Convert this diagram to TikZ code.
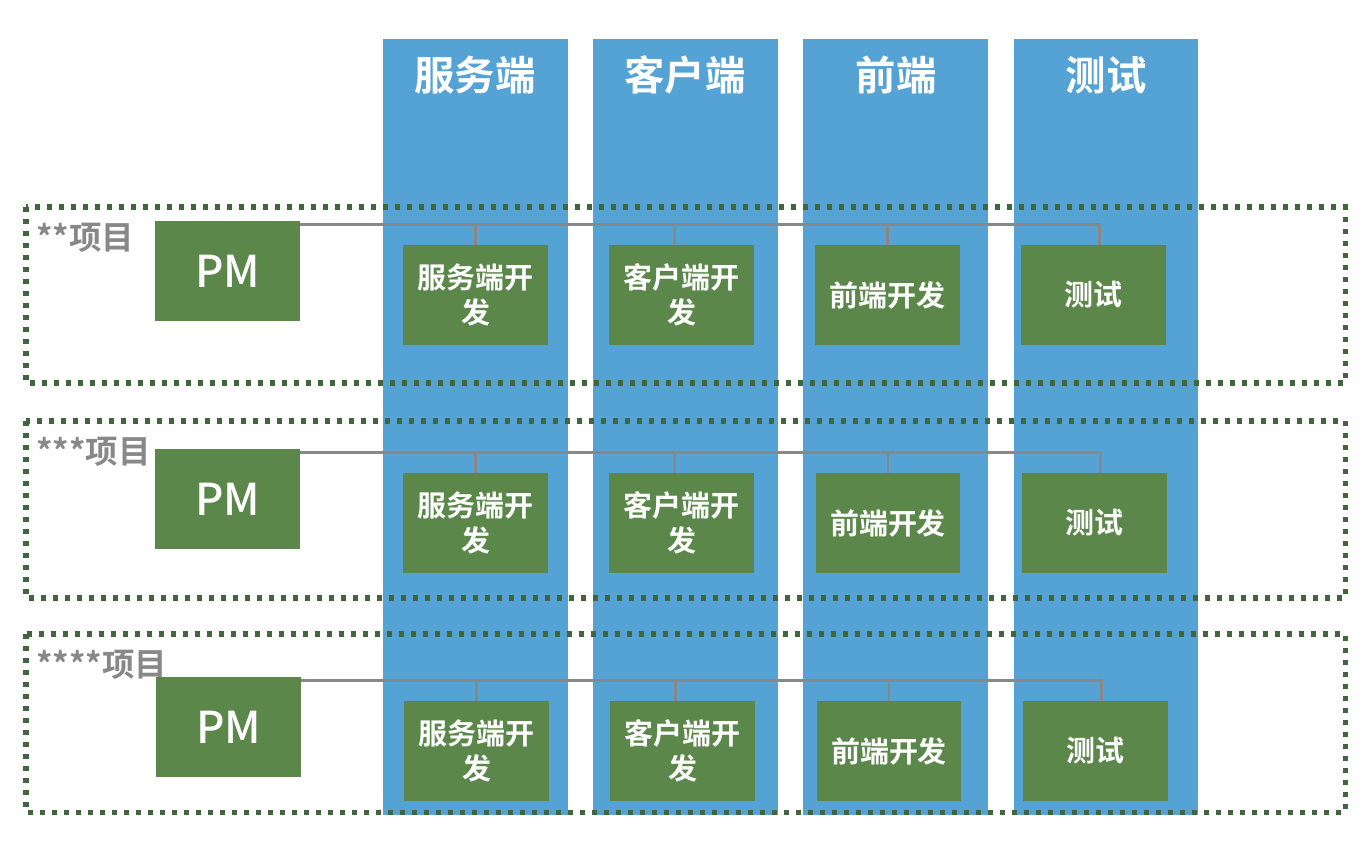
\documentclass[tikz,border=0pt]{standalone}
\usepackage{fontspec}
\setmainfont{Noto Sans CJK SC}[BoldFont={Noto Sans CJK SC Bold}]
\newfontfamily\pmfont{Noto Sans CJK SC Medium}
\usepackage{tikz}
\usetikzlibrary{calc}

\definecolor{colblue}{HTML}{55A3D5}
\definecolor{taskgreen}{HTML}{5B874B}
\definecolor{framegreen}{HTML}{41663D}
\definecolor{linkgray}{HTML}{888888}

\begin{document}
\begin{tikzpicture}[
            x=0.02cm, y=-0.02cm,
            column/.style={fill=colblue},
            column head/.style={text=white, font=\fontsize{23pt}{28pt}\selectfont\bfseries, inner sep=0pt},
            project frame/.style={draw=framegreen, line width=2.85pt, dash pattern=on 2.85pt off 3.98pt},
            project label/.style={anchor=west, text=linkgray, font=\fontsize{18.5pt}{22pt}\selectfont\bfseries, inner sep=0pt},
            pm box/.style={fill=taskgreen, text=white, minimum width=2.9cm, minimum height=2cm, inner sep=0pt,
                font=\pmfont\fontsize{25pt}{30pt}\selectfont},
            task box/.style={fill=taskgreen, text=white, minimum width=2.9cm, minimum height=2cm, inner sep=0pt,
                align=center, font=\fontsize{16.5pt}{20pt}\selectfont\bfseries},
            link/.style={draw=linkgray, line width=1.6pt},
        ]
        \useasboundingbox (0,0) rectangle (1366,844);

        % columns
        \fill[column] (383,39) rectangle (568,815);
        \fill[column] (593,39) rectangle (778,815);
        \fill[column] (803,39) rectangle (988,815);
        \fill[column] (1014,39) rectangle (1198,815);

        \node[column head] (headSrv) at (475,75) {服务端};
        \node[column head] (headCli) at (685,75) {客户端};
        \node[column head] (headFe) at (896,75) {前端};
        \node[column head] (headQa) at (1106,75) {测试};

        % project frames
        \draw[project frame] (26,207) rectangle (1345,383);
        \draw[project frame] (26,421) rectangle (1345,598);
        \draw[project frame] (26,634) rectangle (1345,812);

        \node[project label] (projA) at (36,238) {**项目};
        \node[project label] (projB) at (36,452) {***项目};
        \node[project label] (projC) at (36,665) {****项目};

        % first project
        \node[pm box] (pmA) at (227.5,271) {PM};
        \node[task box] (srvA) at (475.5,295) {服务端开\\发};
        \node[task box] (cliA) at (681.5,295) {客户端开\\发};
        \node[task box] (feA) at (887.5,295) {前端开发};
        \node[task box] (qaA) at (1093.5,295) {测试};

        \coordinate (busA) at ([yshift=-0.08cm]pmA.north east);
        \draw[link] (busA) -| ([xshift=0.12cm]qaA.north);
        \draw[link] (srvA.north) -- (srvA.north |- busA);
        \draw[link] ([xshift=-0.14cm]cliA.north) -- ([xshift=-0.14cm]cliA.north |- busA);
        \draw[link] (feA.north) -- (feA.north |- busA);

        % second project
        \node[pm box] (pmB) at (227.5,499) {PM};
        \node[task box] (srvB) at (475.5,523) {服务端开\\发};
        \node[task box] (cliB) at (681.5,523) {客户端开\\发};
        \node[task box] (feB) at (888,523) {前端开发};
        \node[task box] (qaB) at (1094.5,523) {测试};

        \coordinate (busB) at ([yshift=-0.08cm]pmB.north east);
        \draw[link] (busB) -| ([xshift=0.12cm]qaB.north);
        \draw[link] (srvB.north) -- (srvB.north |- busB);
        \draw[link] ([xshift=-0.14cm]cliB.north) -- ([xshift=-0.14cm]cliB.north |- busB);
        \draw[link] (feB.north) -- (feB.north |- busB);

        % third project
        \node[pm box] (pmC) at (228.5,727) {PM};
        \node[task box] (srvC) at (476.5,751) {服务端开\\发};
        \node[task box] (cliC) at (682.5,751) {客户端开\\发};
        \node[task box] (feC) at (889,751) {前端开发};
        \node[task box] (qaC) at (1095.5,751) {测试};

        \coordinate (busC) at ([yshift=-0.08cm]pmC.north east);
        \draw[link] (busC) -| ([xshift=0.12cm]qaC.north);
        \draw[link] (srvC.north) -- (srvC.north |- busC);
        \draw[link] ([xshift=-0.14cm]cliC.north) -- ([xshift=-0.14cm]cliC.north |- busC);
        \draw[link] (feC.north) -- (feC.north |- busC);
\end{tikzpicture}
\end{document}
